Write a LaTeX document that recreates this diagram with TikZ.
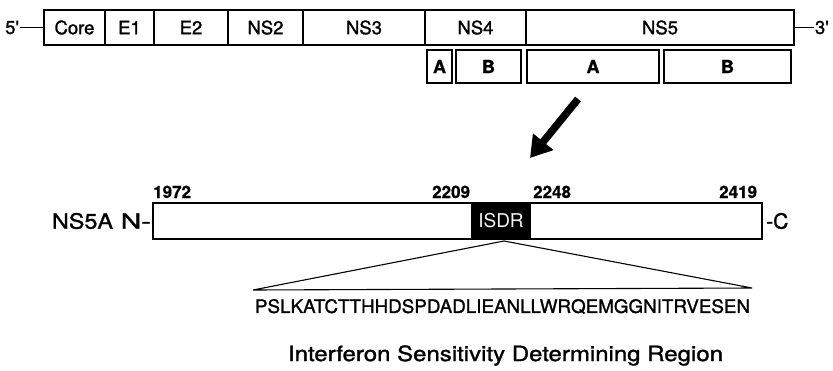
\documentclass[tikz,border=0pt]{standalone}
\usepackage{fontspec}
\setmainfont{TeX Gyre Heros}
\newfontfamily\heavy[FakeBold=1.2]{TeX Gyre Heros}
\newfontfamily\heavybf[FakeBold=0.8]{TeX Gyre Heros Bold}
\usepackage{graphicx}
\usetikzlibrary{arrows.meta}
\begin{document}
\begin{tikzpicture}[x=1pt,y=-1pt,
  seg/.style={draw=black,line width=1.1pt,inner sep=0pt,minimum height=35pt,
    font=\heavy\fontsize{18.5}{18.5}\selectfont},
  subseg/.style={draw=black,line width=1.1pt,inner sep=0pt,minimum height=33pt,
    font=\heavybf\fontsize{18}{18}\selectfont},
  num/.style={inner sep=0pt,anchor=base west,font=\heavybf\fontsize{17}{17}\selectfont},
  lbl/.style={inner sep=1pt,font=\heavy\fontsize{18.5}{18.5}\selectfont},
  big/.style={inner sep=0pt,font=\heavy\fontsize{21}{21}\selectfont},
  conn/.style={line width=1.1pt}]
\useasboundingbox[fill=white] (0,0) rectangle (833,370);
% genome
\node[seg,minimum width=61pt] (core) at (74.5,27.5) {Core};
\node[seg,minimum width=49pt] (e1) at (129.5,27.5) {E1};
\node[seg,minimum width=74pt] (e2) at (191,27.5) {E2};
\node[seg,minimum width=75pt] (ns2) at (265.5,27.5) {NS2};
\node[seg,minimum width=122pt] (ns3) at (364,27.5) {NS3};
\node[seg,minimum width=101pt] (ns4) at (475.5,27.5) {NS4};
\node[seg,minimum width=268pt] (ns5) at (660,27.5) {NS5};
\node[lbl,anchor=west] (five) at (4,27.5) {5'};
\node[lbl,anchor=east] (three) at (830,27.5) {3'};
\draw[conn] (five) -- (core);
\draw[conn] (ns5) -- (three);
% sub segments
\node[subseg,minimum width=25pt] (ns4a) at (439.5,66.5) {A};
\node[subseg,minimum width=65pt] (ns4b) at (488.5,66.5) {B};
\node[subseg,minimum width=132pt] (ns5a) at (593,66.5) {A};
\node[subseg,minimum width=127pt] (ns5b) at (727.5,66.5) {B};
% arrow
\coordinate (arrtail) at (578,99);
\coordinate (arrtip) at (530,158);
\draw[line width=7.5pt,-{Triangle[length=21pt,width=25pt]}] (arrtail) -- (arrtip);
% NS5A bar
\node[draw=black,line width=1.3pt,inner sep=0pt,minimum width=609pt,minimum height=36pt] (bar) at (457.5,221) {};
\node[fill=black,inner sep=0pt,minimum width=60pt,minimum height=36pt,
  text=white!92!gray,font=\fontsize{19}{19}\selectfont] (isdr) at (501,221) {ISDR};
\node[num] (n1972) at (153,198) {1972};
\node[num] (n2209) at (432,198) {2209};
\node[num] (n2248) at (533,198) {2248};
\node[num] (n2419) at (719,198) {2419};
\node[big,anchor=center] (ns5alab) at (82.5,221) {\resizebox{61pt}{\height}{NS5A}};
\node[big,anchor=east] (nterm) at (151,221) {\resizebox{30pt}{\height}{N-}};
\node[big,anchor=west] (cterm) at (766,221) {-C};
% triangle
\coordinate (apex) at (504,241);
\coordinate (bl) at (253,290);
\coordinate (br) at (752,288);
\draw[line width=1.1pt,line join=miter] (apex) -- (bl) -- (br) -- cycle;
\node[inner sep=0pt] (seq) at (502.5,306.5)
  {\resizebox{495pt}{\height}{\heavy\fontsize{18.5}{18.5}\selectfont PSLKATCTTHHDSPDADLIEANLLWRQEMGGNITRVESEN}};
\node[inner sep=0pt] (title) at (505.5,355.5)
  {\resizebox{435pt}{\height}{\heavy\fontsize{21}{21}\selectfont Interferon Sensitivity Determining Region}};
\end{tikzpicture}
\end{document}
